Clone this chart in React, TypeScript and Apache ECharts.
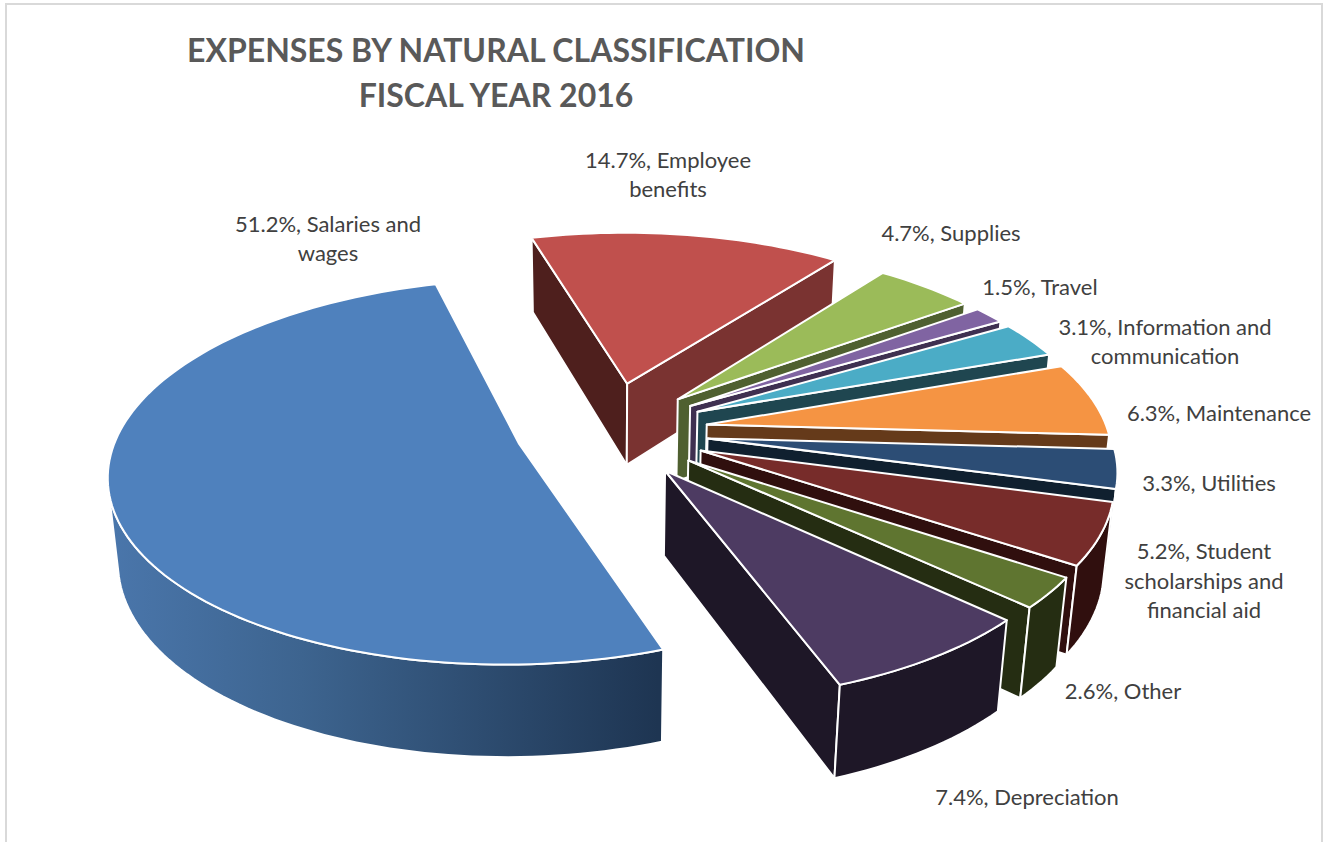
import React, { useEffect, useRef } from "react";
import * as echarts from "echarts";

const categories = ["Salaries and wages", "Employee benefits", "Supplies", "Travel", "Information and communication", "Maintenance", "Utilities", "Student scholarships and financial aid", "Other", "Depreciation"];
const shares = [51.2, 14.7, 4.7, 1.5, 3.1, 6.3, 3.3, 5.2, 2.6, 7.4];
const topColors = ["#4F81BD", "#C0504D", "#9BBB59", "#8064A2", "#4BACC6", "#F59443", "#2C4D75", "#772C2A", "#5F7530", "#4D3B62"];
const wallColors = ["#3B618C", "#4E1F1D", "#4F6030", "#3F3051", "#1F4650", "#653A1A", "#10202F", "#300F0E", "#252D12", "#1E1727"];
const endWallColors = ["#3B618C", "#7A3331", "#4F6030", "#3F3051", "#1F4650", "#653A1A", "#10202F", "#300F0E", "#252D12", "#1E1727"];
const labelBreaks = ["Salaries and\nwages", "Employee\nbenefits", "Supplies", "Travel", "Information and\ncommunication", "Maintenance", "Utilities", "Student\nscholarships and\nfinancial aid", "Other", "Depreciation"];
const labelAnchors = [[328, 238], [668, 174], [951, 232.5], [1040, 286.5], [1165, 341], [1219, 412.5], [1209, 482.5], [1204, 580], [1123, 690.5], [1027, 796.5]];
const titleLines = "EXPENSES BY NATURAL CLASSIFICATION\nFISCAL YEAR 2016";

const START_DEG = 159.8;
const BLUE_TURN = 0.5;
const explosions = [0.23, 0.27, 0.25, 0.25, 0.25, 0.25, 0.25, 0.25, 0.25, 0.25];
const cam = { cx: 608, cy: 431, R: 401, Ry: 185, k: 0.143, D: 85, m: 0.02 };

const rad = (d: number) => (d * Math.PI) / 180;
function project(X: number, F: number, h: number): number[] {
  const w = 1 - cam.k * F + cam.m * h;
  return [cam.cx + (cam.R * X) / w, cam.cy + (cam.Ry * F + cam.D * h) / w];
}
function signedArea(p: number[][]) {
  let s = 0;
  for (let i = 0; i < p.length; i++) {
    const a = p[i];
    const b = p[(i + 1) % p.length];
    s += a[0] * b[1] - b[0] * a[1];
  }
  return s;
}

const total = shares.reduce((a, b) => a + b, 0);
const slices = (() => {
  let acc = START_DEG;
  return shares.map((v, i) => {
    const turn = i === 0 ? BLUE_TURN : 0;
    const a0 = acc + turn;
    const a1 = acc + (v / total) * 360 + turn;
    acc += (v / total) * 360;
    const mid = rad((a0 + a1) / 2);
    const e = explosions[i];
    return { a0, a1, ox: Math.sin(mid) * e, oF: -Math.cos(mid) * e, midF: -Math.cos(mid) };
  });
})();
const drawOrder = shares.map((_, i) => i).sort((a, b) => slices[a].midF - slices[b].midF);

const blueWall = new echarts.graphic.LinearGradient(110, 0, 658, 0, [
  { offset: 0, color: "#4A76AB" },
  { offset: 0.35, color: "#3D648F" },
  { offset: 1, color: "#1E3552" },
], true);

function renderItem(_params: any, api: any) {
  const i = api.value(1) as number;
  const s = slices[i];
  const pt = (deg: number, h: number) => project(s.ox + Math.sin(rad(deg)), s.oF - Math.cos(rad(deg)), h);
  const apex = (h: number) => project(s.ox, s.oF, h);
  const n = Math.max(6, Math.ceil((s.a1 - s.a0) / 1.5));
  const angs: number[] = [];
  for (let j = 0; j <= n; j++) angs.push(s.a0 + ((s.a1 - s.a0) * j) / n);
  const children: any[] = [];
  const stroke = { stroke: "#fff", lineWidth: 2, lineJoin: "round" };
  const poly = (points: number[][], fill: any) => children.push({ type: "polygon", shape: { points }, style: { fill, ...stroke } });

  const q1 = [apex(0), pt(s.a0, 0), pt(s.a0, 1), apex(1)];
  if (signedArea(q1) < 0) poly(q1, wallColors[i]);
  const q2 = [pt(s.a1, 0), apex(0), apex(1), pt(s.a1, 1)];
  if (signedArea(q2) < 0) poly(q2, endWallColors[i]);

  const arcFill = i === 0 ? blueWall : wallColors[i];
  let run: number[] = [];
  const flush = () => {
    if (run.length > 1) {
      poly([...run.map((a) => pt(a, 0)), ...run.slice().reverse().map((a) => pt(a, 1))], arcFill);
    }
    run = [];
  };
  for (let j = 0; j < n; j++) {
    const q = [pt(angs[j], 0), pt(angs[j + 1], 0), pt(angs[j + 1], 1), pt(angs[j], 1)];
    if (signedArea(q) < 0) {
      if (!run.length) run.push(angs[j]);
      run.push(angs[j + 1]);
    } else flush();
  }
  flush();

  poly([apex(0), ...angs.map((a) => pt(a, 0))], topColors[i]);
  return { type: "group", children };
}

export default function App() {
  const ref = useRef<HTMLDivElement>(null);
  useEffect(() => {
    document.body.style.margin = "0";
    const chart = echarts.init(ref.current!, undefined, { renderer: "svg" });
    chart.setOption({
      animation: false,
      backgroundColor: "#fff",
      graphic: [
        { type: "rect", z: -10, silent: true, shape: { x: 6, y: 4, width: 1316, height: 860 }, style: { fill: "#fff", stroke: "#D9D9D9", lineWidth: 2 } },
        {
          type: "text", z: 10, x: 496, y: 72,
          style: { text: titleLines, fill: "#595959", font: "bold 32px Lato", lineHeight: 45, align: "center", verticalAlign: "middle" },
        },
        ...shares.map((v, i) => ({
          type: "text", z: 10, x: labelAnchors[i][0], y: labelAnchors[i][1],
          style: { text: `${v.toFixed(1)}%, ${labelBreaks[i]}`, fill: "#404040", font: "22px Lato", lineHeight: 29.5, align: "center", verticalAlign: "middle" },
        })),
      ],
      series: [{
        type: "custom",
        coordinateSystem: "none",
        renderItem,
        data: drawOrder.map((i) => ({ name: categories[i], value: [shares[i], i] })),
      }],
    });
    return () => chart.dispose();
  }, []);
  return <div ref={ref} style={{ position: "fixed", left: 0, top: 0, width: 1329, height: 842 }} />;
}
